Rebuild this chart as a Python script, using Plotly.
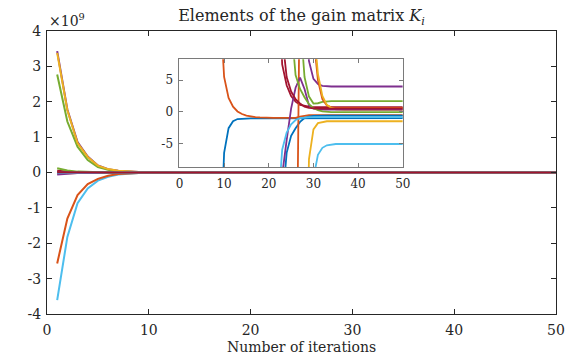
import plotly.graph_objects as go

# Iteration index of the gain sequence
iterations = list(range(1, 51))

# Elements of the gain matrix K_i at every iteration (raw values)
k_blue_1 = [
    -2.0e7, -4.0e6, -8.0e5, -1.6e5, -3.2e4, -6.4e3, -1.3e3, -150, -25, -6.5,
    -2.6, -1.5, -1.15, -1.08, -1.05, -1.05, -1.05, -1.05, -1.05, -1.05,
    -1.05, -1.05, -1.05, -1.05, -1.05, -1.03, -1.0, -1.0, -1.0, -1.0,
    -1.0, -1.0, -1.0, -1.0, -1.0, -1.0, -1.0, -1.0, -1.0, -1.0,
    -1.0, -1.0, -1.0, -1.0, -1.0, -1.0, -1.0, -1.0, -1.0, -1.0,
]
k_orange_1 = [
    1.5e7, 3.0e6, 6.0e5, 1.2e5, 2.4e4, 4.8e3, 950, 130, 18, 5.5,
    2.2, 0.8, 0.05, -0.35, -0.6, -0.75, -0.85, -0.9, -0.95, -0.95,
    -0.95, -0.95, -0.95, -0.95, -0.95, -0.95, -0.75, -0.6, -0.55, -0.55,
    -0.55, -0.55, -0.55, -0.55, -0.55, -0.55, -0.55, -0.55, -0.55, -0.55,
    -0.55, -0.55, -0.55, -0.55, -0.55, -0.55, -0.55, -0.55, -0.55, -0.55,
]
k_yellow_1 = [
    -3.0e7, -1.7e7, -9.5e6, -5.4e6, -3.1e6, -1.8e6, -1.0e6, -5.8e5, -3.3e5, -1.9e5,
    -1.1e5, -6.2e4, -3.5e4, -2.0e4, -1.15e4, -6.6e3, -3.8e3, -2.2e3, -1.25e3, -720,
    -410, -240, -140, -100, -80, -65, -52, -40, -7.5, -2.8,
    -1.8, -1.6, -1.5, -1.5, -1.5, -1.5, -1.5, -1.5, -1.5, -1.5,
    -1.5, -1.5, -1.5, -1.5, -1.5, -1.5, -1.5, -1.5, -1.5, -1.5,
]
k_purple_1 = [
    3.43e9, 1.78e9, 8.6e8, 4.5e8, 2.0e8, 9.5e7, 4.7e7, 2.3e7, 1.15e7, 5.7e6,
    2.85e6, 1.42e6, 7.1e5, 3.55e5, 1.78e5, 8.9e4, 4.45e4, 2.22e4, 1.11e4, 5.6e3,
    2.8e3, 1.4e3, 700, 350, 175, 88, 40, 18, 8.0, 5.2,
    4.4, 4.1, 4.0, 4.0, 4.0, 4.0, 4.0, 4.0, 4.0, 4.0,
    4.0, 4.0, 4.0, 4.0, 4.0, 4.0, 4.0, 4.0, 4.0, 4.0,
]
k_green_1 = [
    2.77e9, 1.44e9, 7.3e8, 3.5e8, 1.5e8, 7.4e7, 3.7e7, 1.85e7, 9.2e6, 4.6e6,
    2.3e6, 1.15e6, 5.8e5, 2.9e5, 1.45e5, 7.2e4, 3.6e4, 1.8e4, 9.0e3, 4.5e3,
    2.25e3, 1.1e3, 560, 280, 140, 60, 15, 5.5, 2.4, 1.3,
    1.35, 1.55, 1.65, 1.7, 1.7, 1.7, 1.7, 1.7, 1.7, 1.7,
    1.7, 1.7, 1.7, 1.7, 1.7, 1.7, 1.7, 1.7, 1.7, 1.7,
]
k_cyan_1 = [
    -3.61e9, -1.82e9, -8.7e8, -4.5e8, -2.3e8, -1.2e8, -6.0e7, -3.0e7, -1.5e7, -7.5e6,
    -3.7e6, -1.85e6, -9.2e5, -4.6e5, -2.3e5, -1.15e5, -5.8e4, -2.9e4, -1.45e4, -7.2e3,
    -3.6e3, -1.8e3, -900, -450, -225, -115, -60, -32, -18, -10.5,
    -6.8, -5.7, -5.3, -5.15, -5.1, -5.1, -5.1, -5.1, -5.1, -5.1,
    -5.1, -5.1, -5.1, -5.1, -5.1, -5.1, -5.1, -5.1, -5.1, -5.1,
]
k_red_1 = [
    5.0e7, 2.0e7, 8.0e6, 3.2e6, 1.3e6, 5.2e5, 2.1e5, 1.0e5, 5.0e4, 2.6e4,
    1.4e4, 7.5e3, 4.1e3, 2.3e3, 1.3e3, 750, 430, 250, 150, 90,
    55, 25, 7.5, 4.2, 2.5, 1.6, 1.1, 0.9, 0.8, 0.75,
    0.75, 0.75, 0.75, 0.75, 0.75, 0.75, 0.75, 0.75, 0.75, 0.75,
    0.75, 0.75, 0.75, 0.75, 0.75, 0.75, 0.75, 0.75, 0.75, 0.75,
]
k_blue_2 = [
    -1.5e7, -6.0e6, -2.4e6, -1.0e6, -4.2e5, -1.8e5, -8.0e4, -3.6e4, -1.7e4, -8.2e3,
    -4.1e3, -2.1e3, -1.1e3, -600, -340, -200, -125, -82, -58, -44,
    -34, -26, -15, -6.5, -3.8, -2.6, -1.6, -1.0, -0.75, -0.65,
    -0.6, -0.6, -0.6, -0.6, -0.6, -0.6, -0.6, -0.6, -0.6, -0.6,
    -0.6, -0.6, -0.6, -0.6, -0.6, -0.6, -0.6, -0.6, -0.6, -0.6,
]
k_orange_2 = [
    -2.57e9, -1.30e9, -6.4e8, -3.3e8, -1.8e8, -9.0e7, -4.5e7, -2.2e7, -1.1e7, -5.5e6,
    -2.7e6, -1.35e6, -6.7e5, -3.4e5, -1.7e5, -8.4e4, -4.2e4, -2.1e4, -1.05e4, -5.2e3,
    -2.6e3, -1.3e3, -650, -320, -150, -45, 25, 30, 22, 12,
    5.0, 2.0, 1.0, 0.7, 0.6, 0.6, 0.6, 0.6, 0.6, 0.6,
    0.6, 0.6, 0.6, 0.6, 0.6, 0.6, 0.6, 0.6, 0.6, 0.6,
]
k_yellow_2 = [
    3.38e9, 1.76e9, 8.3e8, 4.4e8, 1.95e8, 9.6e7, 4.8e7, 2.4e7, 1.2e7, 6.0e6,
    3.0e6, 1.5e6, 7.5e5, 3.7e5, 1.85e5, 9.2e4, 4.6e4, 2.3e4, 1.15e4, 5.7e3,
    2.85e3, 1.42e3, 710, 350, 190, 110, 62, 38, 24, 14,
    6.0, 2.5, 1.1, 0.6, 0.4, 0.3, 0.3, 0.3, 0.3, 0.3,
    0.3, 0.3, 0.3, 0.3, 0.3, 0.3, 0.3, 0.3, 0.3, 0.3,
]
k_purple_2 = [
    -6.0e7, -2.6e7, -1.1e7, -4.8e6, -2.1e6, -9.2e5, -4.0e5, -1.8e5, -8.0e4, -3.6e4,
    -1.65e4, -7.6e3, -3.6e3, -1.75e3, -870, -450, -240, -135, -80, -52,
    -36, -26, -10, -4.5, 0.5, 3.8, 5.4, 3.6, 1.0, 0.5,
    0.4, 0.35, 0.35, 0.35, 0.35, 0.35, 0.35, 0.35, 0.35, 0.35,
    0.35, 0.35, 0.35, 0.35, 0.35, 0.35, 0.35, 0.35, 0.35, 0.35,
]
k_green_2 = [
    1.2e8, 5.5e7, 2.5e7, 1.15e7, 5.3e6, 2.5e6, 1.2e6, 5.8e5, 2.8e5, 1.4e5,
    7.0e4, 3.5e4, 1.75e4, 8.8e3, 4.4e3, 2.2e3, 1.1e3, 560, 290, 150,
    80, 45, 28, 19, 14, 5.8, 3.6, 2.3, 1.2, 0.6,
    0.25, 0.05, -0.05, -0.05, -0.05, -0.05, -0.05, -0.05, -0.05, -0.05,
    -0.05, -0.05, -0.05, -0.05, -0.05, -0.05, -0.05, -0.05, -0.05, -0.05,
]
k_cyan_2 = [
    -1.0e7, -4.5e6, -2.0e6, -9.0e5, -4.0e5, -1.8e5, -8.2e4, -3.7e4, -1.7e4, -7.8e3,
    -3.6e3, -1.7e3, -820, -400, -210, -120, -80, -60, -48, -40,
    -32, -16, -6.0, -3.3, -2.0, -1.3, -1.0, -0.9, -0.85, -0.85,
    -0.85, -0.85, -0.85, -0.85, -0.85, -0.85, -0.85, -0.85, -0.85, -0.85,
    -0.85, -0.85, -0.85, -0.85, -0.85, -0.85, -0.85, -0.85, -0.85, -0.85,
]
k_red_2 = [
    1.0e7, 5.0e6, 2.5e6, 1.25e6, 6.2e5, 3.1e5, 1.55e5, 7.8e4, 3.9e4, 2.0e4,
    1.0e4, 5.1e3, 2.6e3, 1.35e3, 700, 370, 200, 115, 70, 48,
    36, 30, 12, 5.5, 3.2, 2.0, 1.3, 0.8, 0.6, 0.5,
    0.5, 0.5, 0.5, 0.5, 0.5, 0.5, 0.5, 0.5, 0.5, 0.5,
    0.5, 0.5, 0.5, 0.5, 0.5, 0.5, 0.5, 0.5, 0.5, 0.5,
]

# Axis ticks
main_x_ticks = [0, 10, 20, 30, 40, 50]
main_y_ticks = [-4, -3, -2, -1, 0, 1, 2, 3, 4]          # in units of 1e9
main_y_labels = ["-4", "-3", "-2", "-1", "0", "1", "2", "3", "4"]
inset_x_ticks = [0, 10, 20, 30, 40, 50]
inset_y_ticks = [-5, 0, 5]
inset_y_labels = ["-5", "0", "5"]
y_scale = 1e9

# MATLAB default colour order, cycled over the 14 elements
series = [
    (k_blue_1, "#0072BD"), (k_orange_1, "#D95319"), (k_yellow_1, "#EDB120"),
    (k_purple_1, "#7E2F8E"), (k_green_1, "#77AC30"), (k_cyan_1, "#4DBEEE"),
    (k_red_1, "#A2142F"),
    (k_blue_2, "#0072BD"), (k_orange_2, "#D95319"), (k_yellow_2, "#EDB120"),
    (k_purple_2, "#7E2F8E"), (k_green_2, "#77AC30"), (k_cyan_2, "#4DBEEE"),
    (k_red_2, "#A2142F"),
]

fig = go.Figure()
for values, color in series:
    fig.add_trace(go.Scatter(
        x=iterations, y=values, mode="lines", xaxis="x", yaxis="y",
        line=dict(color=color, width=2), showlegend=False, hoverinfo="skip",
    ))
for values, color in series:
    fig.add_trace(go.Scatter(
        x=iterations, y=values, mode="lines", xaxis="x2", yaxis="y2",
        line=dict(color=color, width=1.8), showlegend=False, hoverinfo="skip",
    ))

axis_main = dict(
    showline=True, linecolor="#262626", linewidth=1, mirror="ticks",
    ticks="inside", ticklen=5, tickcolor="#262626", tickwidth=1,
    showgrid=False, zeroline=False,
    tickfont=dict(family="DejaVu Serif", size=14, color="#262626"),
)
axis_inset = dict(
    showline=True, linecolor="#7a7a7a", linewidth=1, mirror="ticks",
    ticks="inside", ticklen=4, tickcolor="#7a7a7a", tickwidth=1,
    showgrid=False, zeroline=False,
    tickfont=dict(family="DejaVu Serif", size=12, color="#262626"),
)

fig.update_layout(
    width=577, height=360,
    margin=dict(l=47, r=15, t=31, b=46),
    paper_bgcolor="white", plot_bgcolor="white",
    font=dict(family="DejaVu Serif", size=14, color="#262626"),
    title=dict(
        text="Elements of the gain matrix <i>K</i><sub><i>i</i></sub>",
        xref="paper", x=0.5, xanchor="center",
        yref="container", y=0.956, yanchor="middle",
        font=dict(family="DejaVu Serif", size=16, color="#262626"),
    ),
    xaxis=dict(
        domain=[0, 1], range=[0, 50], anchor="y",
        tickvals=main_x_ticks, ticktext=[str(t) for t in main_x_ticks],
        ticklabelstandoff=3,
        **axis_main,
    ),
    yaxis=dict(
        domain=[0, 1], range=[-4 * y_scale, 4 * y_scale], anchor="x",
        tickvals=[t * y_scale for t in main_y_ticks], ticktext=main_y_labels,
        ticklabelstandoff=2,
        **axis_main,
    ),
    xaxis2=dict(
        domain=[0.2602, 0.699], range=[0, 50], anchor="y2",
        tickvals=inset_x_ticks, ticktext=[str(t) for t in inset_x_ticks],
        ticklabelstandoff=5,
        **axis_inset,
    ),
    yaxis2=dict(
        domain=[0.518, 0.900], range=[-8.8, 8.3], anchor="x2",
        tickvals=inset_y_ticks, ticktext=inset_y_labels,
        ticklabelstandoff=3,
        **axis_inset,
    ),
    annotations=[
        dict(
            text="×10<sup>9</sup>", xref="paper", yref="paper",
            x=0, y=1, xanchor="left", yanchor="bottom", showarrow=False,
            font=dict(family="DejaVu Serif", size=14, color="#262626"),
        ),
        dict(
            text="Number of iterations", xref="paper", yref="paper",
            x=0.5, y=-0.115, xanchor="center", yanchor="middle", showarrow=False,
            font=dict(family="DejaVu Serif", size=14, color="#262626"),
        ),
    ],
)

fig.write_html("out.html")
